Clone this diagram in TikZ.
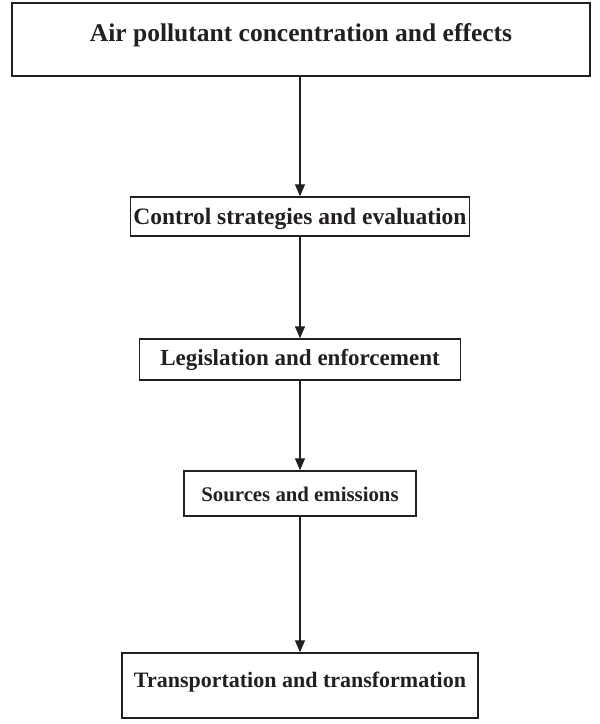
\documentclass[tikz,border=0pt]{standalone}
\usepackage{fontspec}
\setmainfont{Liberation Serif}
\usetikzlibrary{arrows.meta}
\definecolor{ink}{HTML}{231F20}
\tikzset{
  box/.style={draw=ink, line width=1.4pt, rectangle, inner sep=0pt,
    font=\bfseries, text=ink, text height=15pt, text depth=5pt},
  conn/.style={draw=ink, line width=1.2pt, -{Triangle[length=12pt,width=10pt]}}
}
\newcommand{\fsz}[1]{\fontsize{#1}{#1}\selectfont}
\begin{document}
\begin{tikzpicture}[x=1pt,y=1pt]
\useasboundingbox (0,0) rectangle (600,-724);
\node[box, minimum width=578pt, minimum height=73pt, text depth=12pt] (b1) at (301,-39.5) {\fsz{25.5}Air pollutant concentration and effects};
\node[box, minimum width=339pt, minimum height=39pt, text height=21pt] (b2) at (300,-216.5) {\fsz{23.5}Control strategies and evaluation};
\node[box, minimum width=321pt, minimum height=41pt, text depth=3pt] (b3) at (300,-359.5) {\fsz{23}Legislation and enforcement};
\node[box, minimum width=232pt, minimum height=45pt, text depth=0pt] (b4) at (300,-493.5) {\fsz{20.8}Sources and emissions};
\node[box, minimum width=356pt, minimum height=65pt, text depth=12pt] (b5) at (300,-685.5) {\fsz{22}Transportation and transformation};
\draw[conn] (b1.south -| b2.north) -- (b2.north);
\draw[conn] (b2) -- (b3);
\draw[conn] (b3) -- (b4);
\draw[conn] (b4) -- (b5);
\end{tikzpicture}
\end{document}
